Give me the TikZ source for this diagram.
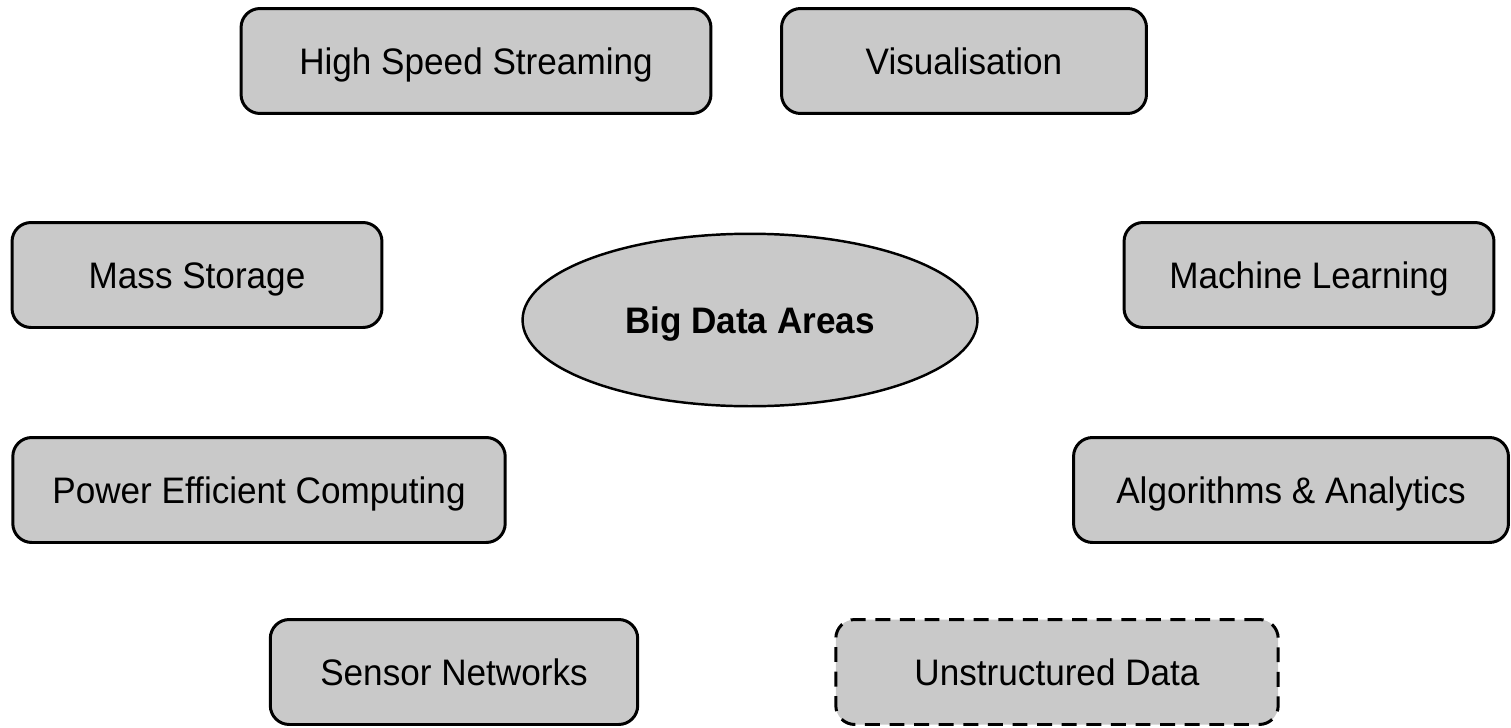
\documentclass[tikz,border=0pt]{standalone}
\usepackage{fontspec}
\setmainfont{Liberation Sans}
\newfontfamily\areafont[FakeStretch=0.952]{Liberation Sans}
\usetikzlibrary{shapes.geometric}

\tikzstyle{every picture}+=[remember picture]
\tikzstyle{area}=[draw=black,fill=black!21,line width=1.7pt,rounded corners=0.38cm,
  minimum height=2.1cm,inner sep=0pt,text height=15pt,text depth=0pt,
  font=\areafont\fontsize{21}{25}\selectfont]
\tikzstyle{centre}=[ellipse,draw=black,fill=black!21,line width=1.4pt,
  minimum width=9.1cm,minimum height=3.45cm,inner sep=0pt,text height=15pt,text depth=0pt,
  font=\areafont\fontsize{21}{25}\selectfont\bfseries]

\begin{document}
\begin{tikzpicture}[x=0.02cm,y=-0.02cm]
        % \draw[help lines,step=100] (0,0) grid (1511,727);
        \useasboundingbox (0,0) rectangle (1511,727);

        % centre
        \node[centre] (bigdata) at (750,320) {Big Data Areas};

        % top row
        \node[area,minimum width=9.4cm] (streaming) at (476,61) {High Speed Streaming};
        \node[area,minimum width=7.3cm] (visual) at (964,61) {Visualisation};

        % left side
        \node[area,minimum width=7.4cm] (storage) at (197,275) {Mass Storage};
        \node[area,minimum width=9.85cm] (power) at (259,490) {Power Efficient Computing};

        % right side
        \node[area,minimum width=7.4cm] (learning) at (1309,275) {Machine Learning};
        \node[area,minimum width=8.7cm] (algorithms) at (1291,490) {Algorithms \& Analytics};

        % bottom row
        \node[area,minimum width=7.35cm] (sensors) at (454,672) {Sensor Networks};
        \node[area,minimum width=8.85cm,dash pattern=on 8.5pt off 5.5pt] (unstructured) at (1057,672) {Unstructured Data};

      \end{tikzpicture}
\end{document}
